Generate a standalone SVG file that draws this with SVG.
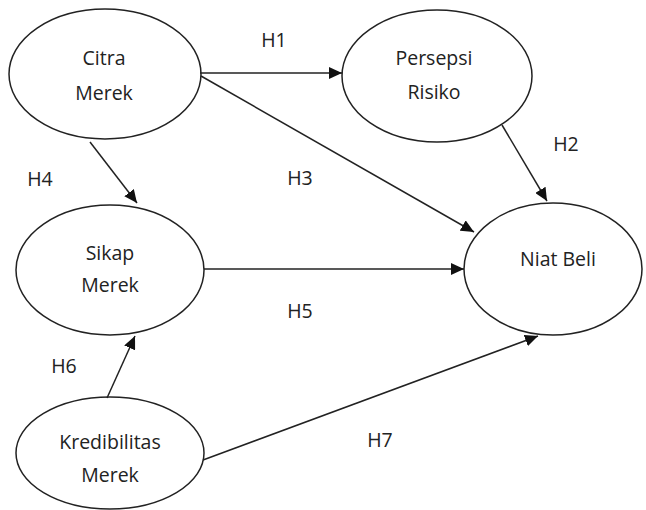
<svg xmlns="http://www.w3.org/2000/svg" width="646" height="510" viewBox="0 0 646 510">
<style>
.node ellipse{fill:#fff;stroke:#222;stroke-width:1.5}
text{font-family:"Open Sans","Noto Sans",sans-serif;font-size:19.5px;fill:#222;text-anchor:middle}
.edge line{stroke:#222;stroke-width:1.5;marker-end:url(#ah)}
</style>
<defs>
<marker id="ah" markerUnits="userSpaceOnUse" markerWidth="14" markerHeight="12" refX="13" refY="6" orient="auto">
<path d="M0,0 L13,6 L0,12 z" fill="#111"/>
</marker>
</defs>
<rect width="646" height="510" fill="#fff"/>
<g id="citra" class="node"><ellipse cx="105" cy="74" rx="96" ry="65"/><text x="104" y="65">Citra</text><text x="104" y="100">Merek</text></g>
<g id="persepsi" class="node"><ellipse cx="437" cy="76" rx="95" ry="66"/><text x="434" y="65">Persepsi</text><text x="434" y="99">Risiko</text></g>
<g id="niat" class="node"><ellipse cx="553" cy="269" rx="89" ry="66"/><text x="558" y="266">Niat Beli</text></g>
<g id="sikap" class="node"><ellipse cx="110" cy="270" rx="94" ry="65"/><text x="110" y="260">Sikap</text><text x="110" y="292">Merek</text></g>
<g id="kredibilitas" class="node"><ellipse cx="110" cy="453" rx="94" ry="56"/><text x="110" y="449">Kredibilitas</text><text x="110" y="482">Merek</text></g>
<g id="connectors" class="edge">
<line x1="200" y1="73" x2="342" y2="73"/>
<line x1="201" y1="76" x2="474" y2="232"/>
<line x1="502" y1="125" x2="547" y2="201"/>
<line x1="90" y1="142" x2="137" y2="203"/>
<line x1="204" y1="269" x2="464" y2="269"/>
<line x1="107" y1="398" x2="135" y2="336"/>
<line x1="203" y1="460" x2="538" y2="336"/>
</g>
<g id="labels">
<text x="274" y="47">H1</text>
<text x="566" y="151">H2</text>
<text x="300" y="185">H3</text>
<text x="40" y="186">H4</text>
<text x="300" y="318">H5</text>
<text x="64" y="373">H6</text>
<text x="380" y="447">H7</text>
</g>
</svg>
